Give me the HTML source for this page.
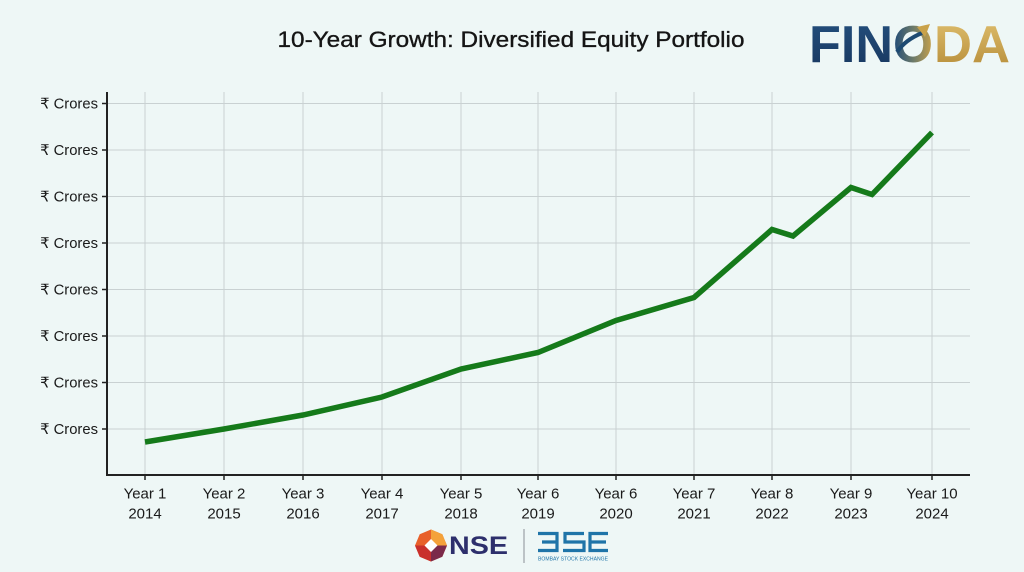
<!DOCTYPE html>
<html>
<head>
<meta charset="utf-8">
<style>
html,body{margin:0;padding:0;background:#eef7f6;}
svg{display:block;}
text{font-family:"Liberation Sans","DejaVu Sans",sans-serif;}
</style>
</head>
<body>
<svg width="1024" height="572" viewBox="0 0 1024 572" xmlns="http://www.w3.org/2000/svg">
  <defs>
    <linearGradient id="gold" x1="0" y1="0" x2="0" y2="1">
      <stop offset="0" stop-color="#e0c070"/>
      <stop offset="1" stop-color="#b48a36"/>
    </linearGradient>
    <linearGradient id="navy" x1="0" y1="0" x2="0" y2="1">
      <stop offset="0" stop-color="#24507e"/>
      <stop offset="1" stop-color="#17365e"/>
    </linearGradient>
    <linearGradient id="omix" x1="0" y1="0" x2="1" y2="0">
      <stop offset="0" stop-color="#1f4a78"/>
      <stop offset="0.5" stop-color="#6b7a6a"/>
      <stop offset="1" stop-color="#c9a24a"/>
    </linearGradient>
  </defs>
  <rect width="1024" height="572" fill="#eef7f6"/>

  <!-- Title -->
  <text x="511" y="47" text-anchor="middle" font-size="22" fill="#151515" stroke="#151515" stroke-width="0.35" textLength="467" lengthAdjust="spacingAndGlyphs">10-Year Growth: Diversified Equity Portfolio</text>

  <!-- Logo FINODA -->
  <text x="809" y="62" font-size="52" font-weight="bold" fill="url(#navy)" textLength="84" lengthAdjust="spacingAndGlyphs">FIN</text>
  <text x="893" y="62" font-size="52" font-weight="bold" fill="url(#omix)" textLength="40" lengthAdjust="spacingAndGlyphs">O</text>
  <text x="934" y="62" font-size="52" font-weight="bold" fill="url(#gold)" textLength="76" lengthAdjust="spacingAndGlyphs">DA</text>
  <path d="M897 52 Q905 40 922 33" stroke="#1d4a72" stroke-width="4" fill="none"/>
  <polygon points="917,27 930,24 925,37" fill="#c9a24a"/>

  <!-- Grid horizontal -->
  <g stroke="#c9d1d2" stroke-width="1">
    <line x1="107" y1="103.5" x2="970" y2="103.5"/>
    <line x1="107" y1="150" x2="970" y2="150"/>
    <line x1="107" y1="196.5" x2="970" y2="196.5"/>
    <line x1="107" y1="243" x2="970" y2="243"/>
    <line x1="107" y1="289.5" x2="970" y2="289.5"/>
    <line x1="107" y1="336" x2="970" y2="336"/>
    <line x1="107" y1="382.5" x2="970" y2="382.5"/>
    <line x1="107" y1="429" x2="970" y2="429"/>
  </g>
  <!-- Grid vertical -->
  <g stroke="#c9d1d2" stroke-width="1">
    <line x1="145" y1="92" x2="145" y2="475"/>
    <line x1="224" y1="92" x2="224" y2="475"/>
    <line x1="303" y1="92" x2="303" y2="475"/>
    <line x1="382" y1="92" x2="382" y2="475"/>
    <line x1="461" y1="92" x2="461" y2="475"/>
    <line x1="538" y1="92" x2="538" y2="475"/>
    <line x1="616" y1="92" x2="616" y2="475"/>
    <line x1="694" y1="92" x2="694" y2="475"/>
    <line x1="772" y1="92" x2="772" y2="475"/>
    <line x1="851" y1="92" x2="851" y2="475"/>
    <line x1="932" y1="92" x2="932" y2="475"/>
  </g>

  <!-- Axes -->
  <g stroke="#222" stroke-width="2">
    <line x1="107" y1="92" x2="107" y2="476"/>
    <line x1="106" y1="475" x2="970" y2="475"/>
  </g>
  <!-- Ticks -->
  <g stroke="#222" stroke-width="1.5">
    <line x1="102" y1="103.5" x2="107" y2="103.5"/>
    <line x1="102" y1="150" x2="107" y2="150"/>
    <line x1="102" y1="196.5" x2="107" y2="196.5"/>
    <line x1="102" y1="243" x2="107" y2="243"/>
    <line x1="102" y1="289.5" x2="107" y2="289.5"/>
    <line x1="102" y1="336" x2="107" y2="336"/>
    <line x1="102" y1="382.5" x2="107" y2="382.5"/>
    <line x1="102" y1="429" x2="107" y2="429"/>
    <line x1="145" y1="475" x2="145" y2="480"/>
    <line x1="224" y1="475" x2="224" y2="480"/>
    <line x1="303" y1="475" x2="303" y2="480"/>
    <line x1="382" y1="475" x2="382" y2="480"/>
    <line x1="461" y1="475" x2="461" y2="480"/>
    <line x1="538" y1="475" x2="538" y2="480"/>
    <line x1="616" y1="475" x2="616" y2="480"/>
    <line x1="694" y1="475" x2="694" y2="480"/>
    <line x1="772" y1="475" x2="772" y2="480"/>
    <line x1="851" y1="475" x2="851" y2="480"/>
    <line x1="932" y1="475" x2="932" y2="480"/>
  </g>

  <!-- Y labels -->
  <g font-size="14.8" fill="#1a1a1a" text-anchor="end">
    <text x="98" y="108.5">₹ Crores</text>
    <text x="98" y="155">₹ Crores</text>
    <text x="98" y="201.5">₹ Crores</text>
    <text x="98" y="248">₹ Crores</text>
    <text x="98" y="294.5">₹ Crores</text>
    <text x="98" y="341">₹ Crores</text>
    <text x="98" y="387.5">₹ Crores</text>
    <text x="98" y="434">₹ Crores</text>
  </g>

  <!-- X labels -->
  <g font-size="15" fill="#1a1a1a" text-anchor="middle">
    <text x="145" y="498.5">Year 1</text><text x="145" y="518.5">2014</text>
    <text x="224" y="498.5">Year 2</text><text x="224" y="518.5">2015</text>
    <text x="303" y="498.5">Year 3</text><text x="303" y="518.5">2016</text>
    <text x="382" y="498.5">Year 4</text><text x="382" y="518.5">2017</text>
    <text x="461" y="498.5">Year 5</text><text x="461" y="518.5">2018</text>
    <text x="538" y="498.5">Year 6</text><text x="538" y="518.5">2019</text>
    <text x="616" y="498.5">Year 6</text><text x="616" y="518.5">2020</text>
    <text x="694" y="498.5">Year 7</text><text x="694" y="518.5">2021</text>
    <text x="772" y="498.5">Year 8</text><text x="772" y="518.5">2022</text>
    <text x="851" y="498.5">Year 9</text><text x="851" y="518.5">2023</text>
    <text x="932" y="498.5">Year 10</text><text x="932" y="518.5">2024</text>
  </g>

  <!-- Series -->
  <polyline fill="none" stroke="#157a1a" stroke-width="5.5" stroke-linejoin="miter" stroke-linecap="butt"
    points="145,442 224,429 303,415 382,397 461,369 538,352.5 616,320.5 694,297.5 772,229.5 793,236 851,187.5 872,194.5 932,132.5"/>

  <!-- NSE logo -->
  <g transform="translate(431,545.5)">
    <polygon points="-16,0 -11.3,-11.3 0,-16 11.3,-11.3 16,0 11.3,11.3 0,16 -11.3,11.3" fill="#e8602a"/>
    <polygon points="0,-16 11.3,-11.3 16,0 0,0" fill="#f4a23a"/>
    <polygon points="-16,0 -11.3,11.3 0,16 0,0" fill="#c9302c"/>
    <polygon points="16,0 11.3,11.3 0,16 0,0" fill="#7b2a4a"/>
    <polygon points="-6.5,0 0,-6.5 6.5,0 0,6.5" fill="#ffffff"/>
  </g>
  <text x="449" y="554" font-size="25" font-weight="bold" fill="#2d2f6c" textLength="59" lengthAdjust="spacingAndGlyphs">NSE</text>
  <line x1="524" y1="529" x2="524" y2="563" stroke="#8a8f95" stroke-width="1"/>
  <!-- BSE logo -->
  <g fill="none" stroke="#1f74a8" stroke-width="3.2">
    <path d="M538,533.5 H557 V542 H542 M557,542 V550.5 H538"/>
    <path d="M584,533.5 H565 V542 H584 V550.5 H563"/>
    <path d="M608,533.5 H590 V550.5 H608 M590,542 H606"/>
  </g>
  <text x="538" y="560.5" font-size="5" fill="#1f74a8" textLength="70" lengthAdjust="spacingAndGlyphs">BOMBAY STOCK EXCHANGE</text>
</svg>
</body>
</html>
